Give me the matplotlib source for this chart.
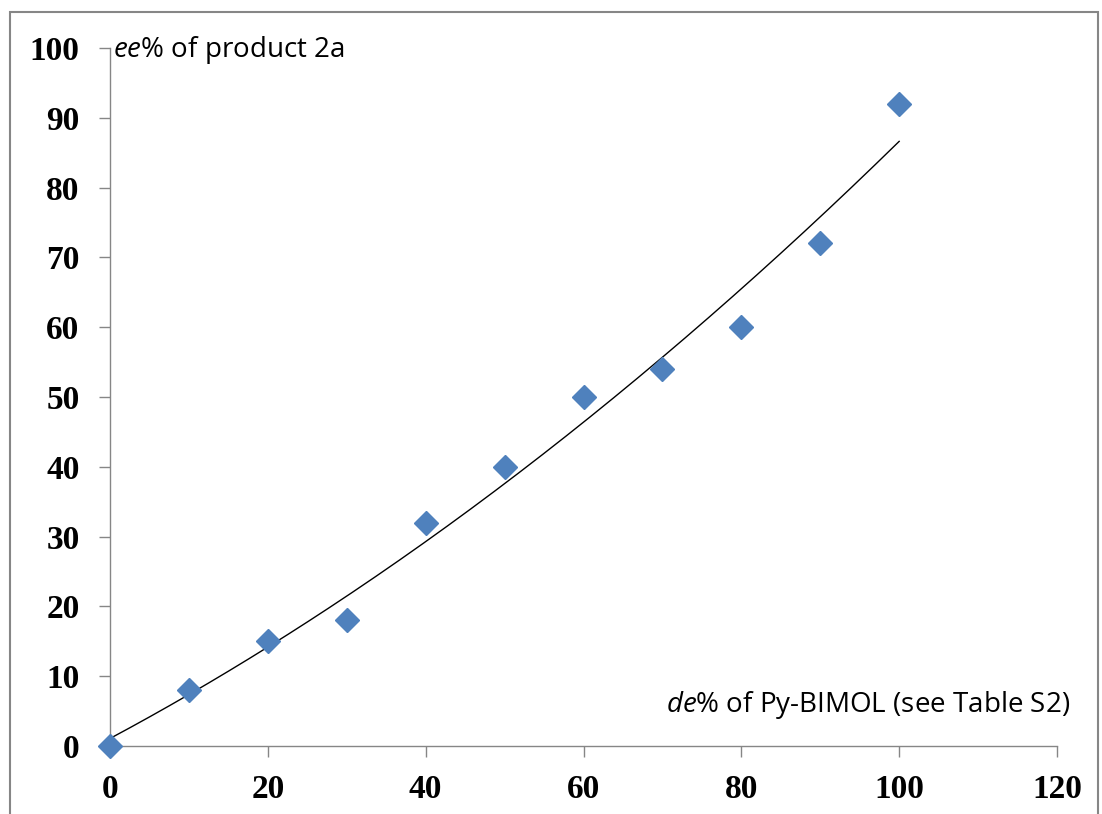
import numpy as np
import matplotlib
matplotlib.use("Agg")
import matplotlib.pyplot as plt
from matplotlib.patches import Rectangle

# data
de_percent = [0, 10, 20, 30, 40, 50, 60, 70, 80, 90, 100]
ee_percent = [0, 8, 15, 18, 32, 40, 50, 54, 60, 72, 92]
x_ticks = [0, 20, 40, 60, 80, 100, 120]
y_ticks = [0, 10, 20, 30, 40, 50, 60, 70, 80, 90, 100]

plt.rcParams["mathtext.fontset"] = "custom"
plt.rcParams["mathtext.it"] = "Open Sans:italic"
plt.rcParams["mathtext.rm"] = "Open Sans"

fig = plt.figure(figsize=(11.02, 8.14), dpi=100)
# outer chart border
fig.patches.append(Rectangle((10 / 1102, -0.01), (1098 - 10) / 1102, 1 - 12 / 814 + 0.01,
                             transform=fig.transFigure, fill=False,
                             edgecolor="#868686", linewidth=1.5))

ax = fig.add_axes([110 / 1102, 1 - 746 / 814, (1057 - 110) / 1102, (746 - 48) / 814])
ax.set_xlim(0, 120)
ax.set_ylim(0, 100)

# trendline (2nd order polynomial fit of data)
coef = np.polyfit(de_percent, ee_percent, 2)
xs = np.linspace(0, 100, 200)
ax.plot(xs, np.polyval(coef, xs), color="black", linewidth=1.0, zorder=2)

ax.plot(de_percent, ee_percent, linestyle="none", marker="D", markersize=12.5,
        color="#4F81BD", markeredgecolor="#4F81BD", zorder=3, clip_on=False)

ax.set_xticks(x_ticks)
ax.set_yticks(y_ticks)
for s in ["top", "right"]:
    ax.spines[s].set_visible(False)
for s in ["left", "bottom"]:
    ax.spines[s].set_color("#868686")
    ax.spines[s].set_linewidth(1.0)
ax.tick_params(direction="out", length=8, width=1, color="#868686")
ax.tick_params(axis="y", pad=14)
ax.tick_params(axis="x", pad=12)
for lab in ax.get_xticklabels() + ax.get_yticklabels():
    lab.set_fontfamily("Liberation Serif")
    lab.set_fontweight("bold")
    lab.set_fontsize(24)

fig.text(113 / 1102, 1 - 50 / 814, r"$\mathit{ee}$% of product 2a",
         fontsize=20, family="Open Sans", va="center", ha="left")
fig.text(1070 / 1102, 1 - 705 / 814, r"$\mathit{de}$% of Py-BIMOL (see Table S2)",
         fontsize=20, family="Open Sans", va="center", ha="right")

fig.savefig("out.png", dpi=100)
